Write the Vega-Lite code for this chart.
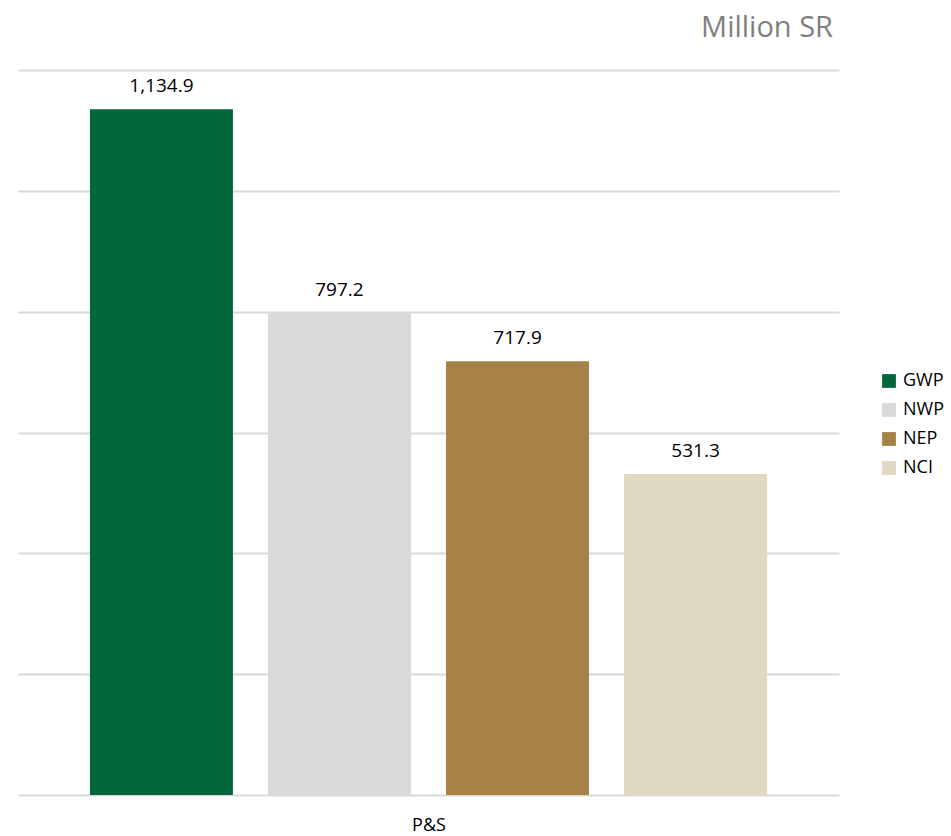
{
  "$schema": "https://vega.github.io/schema/vega-lite/v6.json",
  "autosize": {"type": "none"},
  "width": 821,
  "height": 725,
  "padding": {"left": 18, "top": 70, "right": 112, "bottom": 41},
  "background": "white",
  "title": {
    "text": "Million SR",
    "anchor": "end",
    "frame": "group",
    "fontSize": 29,
    "font": "Open Sans",
    "fontWeight": "normal",
    "color": "#7F7F7F",
    "offset": 27,
    "dx": -6
  },
  "data": {
    "values": [
      {"series": "GWP", "value": 1134.9, "label": "1,134.9"},
      {"series": "NWP", "value": 797.2, "label": "797.2"},
      {"series": "NEP", "value": 717.9, "label": "717.9"},
      {"series": "NCI", "value": 531.3, "label": "531.3"}
    ]
  },
  "encoding": {
    "x": {
      "field": "series",
      "type": "nominal",
      "sort": ["GWP", "NWP", "NEP", "NCI"],
      "scale": {"paddingInner": 0.197, "paddingOuter": 0.404},
      "axis": {
        "title": "P&S",
        "labels": false,
        "ticks": false,
        "domain": false,
        "titleFontSize": 18,
        "titleFont": "Open Sans",
        "titleFontWeight": "normal",
        "titleColor": "#000000",
        "titlePadding": 21
      }
    },
    "y": {
      "field": "value",
      "type": "quantitative",
      "scale": {"domain": [0, 1200], "nice": false},
      "axis": {
        "title": null,
        "labels": false,
        "ticks": false,
        "domain": false,
        "values": [0, 200, 400, 600, 800, 1000, 1200],
        "gridColor": "#D9D9D9",
        "gridWidth": 2
      }
    }
  },
  "layer": [
    {
      "mark": {"type": "bar"},
      "encoding": {
        "color": {
          "field": "series",
          "type": "nominal",
          "sort": ["GWP", "NWP", "NEP", "NCI"],
          "scale": {
            "domain": ["GWP", "NWP", "NEP", "NCI"],
            "range": ["#03673C", "#D9D9D9", "#A68246", "#DFD9C3"]
          },
          "legend": {
            "title": null,
            "orient": "none",
            "legendX": 862,
            "legendY": 302,
            "symbolType": "square",
            "symbolSize": 190,
            "symbolStrokeWidth": 0,
            "labelFontSize": 18,
            "labelFont": "Open Sans",
            "labelColor": "#000000",
            "rowPadding": 11,
            "labelOffset": 5
          }
        }
      }
    },
    {
      "mark": {
        "type": "text",
        "baseline": "alphabetic",
        "dy": -17,
        "fontSize": 19,
        "font": "Open Sans",
        "color": "#000000"
      },
      "encoding": {
        "text": {"field": "label"}
      }
    }
  ],
  "config": {"view": {"stroke": null}}
}
